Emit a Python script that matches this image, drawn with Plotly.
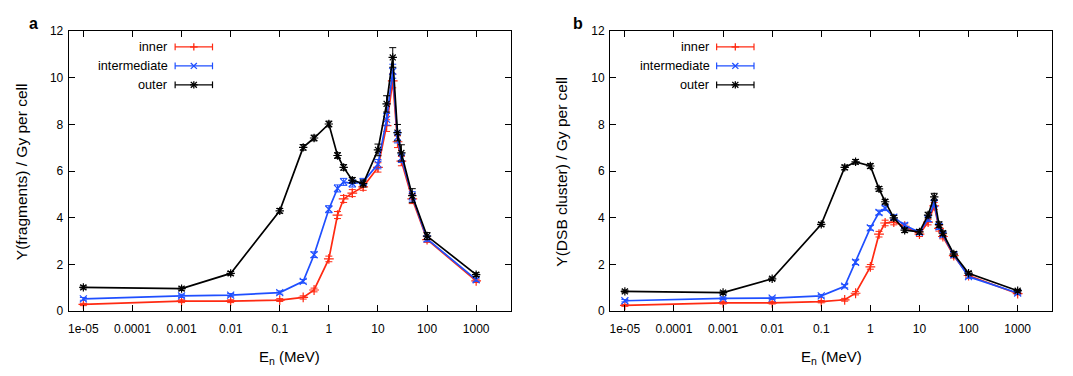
import plotly.graph_objects as go

W, H = 1073, 376

energy = [1e-5, 0.001, 0.01, 0.1, 0.3, 0.5, 1, 1.5, 2, 3, 5, 10, 15, 20, 25, 30, 50, 100, 1000]
tick_vals = [1e-5, 1e-4, 1e-3, 1e-2, 0.1, 1, 10, 100, 1000]
tick_text = ["1e-05", "0.0001", "0.001", "0.01", "0.1", "1", "10", "100", "1000"]
series_names = ["inner", "intermediate", "outer"]

# Panel a: Y(fragments)
frag_inner = [0.29, 0.43, 0.43, 0.48, 0.59, 0.91, 2.24, 4.12, 4.81, 5.06, 5.33, 6.16, 7.95, 9.87, 7.26, 6.43, 4.81, 3.07, 1.30]
frag_inner_err = [0.05, 0.06, 0.06, 0.06, 0.07, 0.08, 0.12, 0.15, 0.15, 0.15, 0.15, 0.2, 0.25, 0.3, 0.25, 0.2, 0.2, 0.12, 0.07]
frag_inter = [0.53, 0.66, 0.69, 0.80, 1.28, 2.42, 4.37, 5.26, 5.54, 5.47, 5.54, 6.30, 8.22, 10.28, 7.46, 6.57, 4.92, 3.10, 1.35]
frag_inter_err = [0.06, 0.07, 0.07, 0.07, 0.08, 0.12, 0.15, 0.15, 0.15, 0.15, 0.15, 0.2, 0.25, 0.3, 0.25, 0.2, 0.2, 0.12, 0.07]
frag_outer = [1.02, 0.97, 1.62, 4.30, 7.02, 7.42, 8.02, 6.67, 6.16, 5.61, 5.47, 6.91, 8.88, 10.87, 7.65, 6.78, 4.95, 3.22, 1.57]
frag_outer_err = [0.07, 0.07, 0.08, 0.1, 0.12, 0.12, 0.12, 0.12, 0.12, 0.12, 0.15, 0.25, 0.35, 0.42, 0.35, 0.35, 0.3, 0.15, 0.08]

# Panel b: Y(DSB cluster)
dsb_inner = [0.25, 0.36, 0.36, 0.41, 0.49, 0.77, 1.90, 3.30, 3.78, 3.82, 3.64, 3.30, 3.82, 4.51, 3.55, 3.20, 2.38, 1.53, 0.75]
dsb_inner_err = [0.04, 0.05, 0.05, 0.05, 0.06, 0.07, 0.1, 0.12, 0.12, 0.12, 0.1, 0.1, 0.12, 0.15, 0.12, 0.1, 0.1, 0.07, 0.05]
dsb_inter = [0.45, 0.55, 0.56, 0.66, 1.07, 2.10, 3.57, 4.23, 4.41, 4.03, 3.68, 3.38, 3.96, 4.62, 3.62, 3.27, 2.42, 1.48, 0.78]
dsb_inter_err = [0.05, 0.05, 0.05, 0.06, 0.07, 0.1, 0.1, 0.1, 0.1, 0.1, 0.1, 0.1, 0.12, 0.15, 0.12, 0.1, 0.1, 0.07, 0.05]
dsb_outer = [0.85, 0.80, 1.39, 3.72, 6.16, 6.40, 6.22, 5.24, 4.69, 4.00, 3.47, 3.40, 4.12, 4.90, 3.71, 3.34, 2.45, 1.63, 0.88]
dsb_outer_err = [0.06, 0.06, 0.07, 0.08, 0.1, 0.1, 0.1, 0.1, 0.1, 0.1, 0.1, 0.1, 0.12, 0.15, 0.12, 0.1, 0.1, 0.07, 0.05]

colors = ["#ff2a12", "#1f4fff", "#000000"]
symbols = ["cross-thin-open", "x-thin-open", "asterisk-open"]

panels = [
    ("x", "y", [(frag_inner, frag_inner_err), (frag_inter, frag_inter_err), (frag_outer, frag_outer_err)]),
    ("x2", "y2", [(dsb_inner, dsb_inner_err), (dsb_inter, dsb_inter_err), (dsb_outer, dsb_outer_err)]),
]

fig = go.Figure()
for xa, ya, data in panels:
    for k, (vals, errs) in enumerate(data):
        fig.add_trace(go.Scatter(
            x=energy, y=vals, xaxis=xa, yaxis=ya, mode="lines+markers",
            name=series_names[k], showlegend=False,
            line=dict(color=colors[k], width=1.7),
            marker=dict(symbol=symbols[k], size=7, color=colors[k], line=dict(color=colors[k], width=1.2)),
            error_y=dict(type="data", array=errs, visible=True, color=colors[k], thickness=1, width=3.5),
        ))

def px(x):
    return x / W

def py(y):
    return 1 - y / H

# plot areas (pixels)
areas = [(67.7, 510.0), (609.7, 1052.0)]
top, bot = 25.0, 316.0

font = "Liberation Sans, Arial, Helvetica, sans-serif"
axis_common = dict(showline=True, linecolor="#000", linewidth=1, mirror="ticks", ticks="inside",
                   ticklen=6, tickcolor="#000", tickwidth=1, showgrid=False, zeroline=False,
                   tickfont=dict(family=font, size=12, color="#000"))

layout = dict(width=W, height=H, margin=dict(l=0, r=0, t=0, b=0), autosize=False,
              plot_bgcolor="white", paper_bgcolor="white", showlegend=False)
for i, (l, r) in enumerate(areas):
    sx = "" if i == 0 else "2"
    layout["xaxis" + sx] = dict(axis_common, type="log", range=[-5.3, 3.7], domain=[px(l), px(r)],
                                tickvals=tick_vals, ticktext=tick_text, anchor="y" + sx,
                                ticklabelstandoff=6)
    layout["yaxis" + sx] = dict(axis_common, range=[0, 12], dtick=2, domain=[py(bot), py(top)],
                                anchor="x" + sx, ticklabelstandoff=2)
fig.update_layout(**layout)

ytitles = ["Y(fragments) / Gy per cell", "Y(DSB cluster) / Gy per cell"]
ytitle_x = [20, 561]
labels = ["a", "b"]
label_x = [33, 578]
shapes = []
annotations = []
for i, (l, r) in enumerate(areas):
    annotations.append(dict(x=px(ytitle_x[i]), y=py((top + bot) / 2), xref="paper", yref="paper",
                            text=ytitles[i], textangle=-90, showarrow=False,
                            font=dict(family=font, size=15.5, color="#000"), xanchor="center", yanchor="middle"))
    annotations.append(dict(x=px((l + r) / 2), y=py(364), xref="paper", yref="paper",
                            text="E<sub>n</sub> (MeV)", showarrow=False,
                            font=dict(family=font, size=15, color="#000"), xanchor="center", yanchor="middle"))
    annotations.append(dict(x=px(label_x[i]), y=py(17), xref="paper", yref="paper",
                            text="<b>" + labels[i] + "</b>", showarrow=False,
                            font=dict(family=font, size=16, color="#000"), xanchor="center", yanchor="middle"))
    # manual gnuplot-style legend
    x0 = l + 106.6
    x1 = x0 + 37.4
    xm = (x0 + x1) / 2
    for k, yy in enumerate([41.5, 61.2, 80.8]):
        c = colors[k]
        annotations.append(dict(x=px(x0 - 5), y=py(yy), xref="paper", yref="paper", text=series_names[k],
                                showarrow=False, xanchor="right", yanchor="middle",
                                font=dict(family=font, size=12.7, color="#000")))
        shapes.append(dict(type="line", xref="paper", yref="paper", x0=px(x0), x1=px(x1), y0=py(yy), y1=py(yy),
                           line=dict(color=c, width=1.3)))
        for xe in (x0, x1):
            shapes.append(dict(type="line", xref="paper", yref="paper", x0=px(xe), x1=px(xe),
                               y0=py(yy - 3.5), y1=py(yy + 3.5), line=dict(color=c, width=1.2)))
        s = 3.8
        segs = []
        if k in (0, 2):
            segs += [((xm - s, yy), (xm + s, yy)), ((xm, yy - s), (xm, yy + s))]
        if k in (1, 2):
            d = s * 0.8
            segs += [((xm - d, yy - d), (xm + d, yy + d)), ((xm - d, yy + d), (xm + d, yy - d))]
        for (a, b) in segs:
            shapes.append(dict(type="line", xref="paper", yref="paper", x0=px(a[0]), y0=py(a[1]),
                               x1=px(b[0]), y1=py(b[1]), line=dict(color=c, width=1.3)))

fig.update_layout(shapes=shapes, annotations=annotations)
page_css = (
    "var de=document.documentElement, b=document.body;"
    "de.style.margin='0';de.style.padding='0';de.style.overflow='hidden';de.style.height='376px';"
    "b.style.margin='0';b.style.padding='0';b.style.overflow='hidden';b.style.height='376px';"
)
fig.write_html("out.html", config={"displayModeBar": False}, post_script=page_css)
